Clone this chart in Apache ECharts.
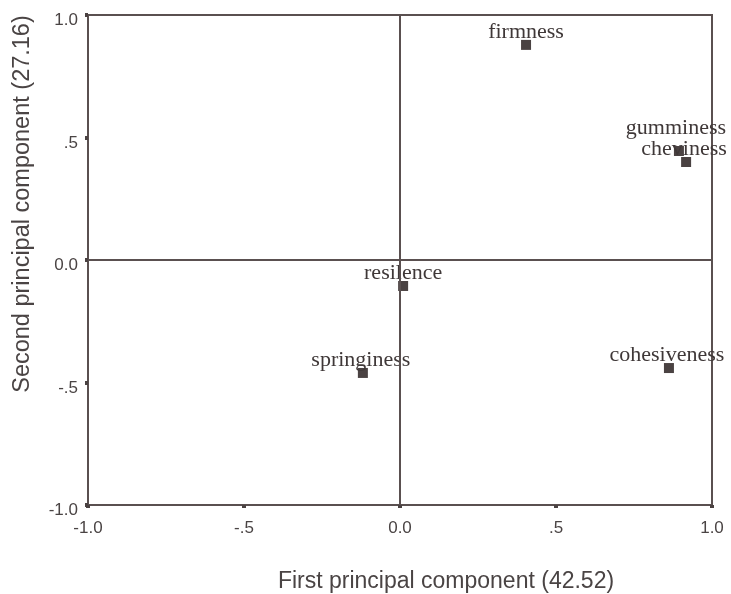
<!DOCTYPE html>
<html><head><meta charset="utf-8">
<script src="https://cdn.jsdelivr.net/npm/echarts@6/dist/echarts.min.js"></script>
<style>html,body{margin:0;padding:0;background:#fff}#c{width:731px;height:594px}</style>
</head><body><div id="c"></div>
<script>
var names = ['firmness','gumminess','cheviness','resilence','springiness','cohesiveness'];
var pc1 = [0.404, 0.894, 0.917, 0.010, -0.119, 0.862];
var pc2 = [0.878, 0.445, 0.400, -0.106, -0.461, -0.441];
var xTickLabels = ['-1.0','-.5','0.0','.5','1.0'];
var yTickLabels = ['-1.0','-.5','0.0','.5','1.0'];
var xTitle = 'First principal component (42.52)';
var yTitle = 'Second principal component (27.16)';

var ink = '#4a4242';
var lineC = '#5a5050';
var textC = '#4a4444';
var labelShift = {gumminess: [-3, -10], cheviness: [-2, 0], cohesiveness: [-2, 0], springiness: [-2, 0]};

var data = names.map(function(n, i){
  var d = {name: n, value: [pc1[i], pc2[i]]};
  if (labelShift[n]) d.label = {offset: labelShift[n]};
  return d;
});

var chart = echarts.init(document.getElementById('c'), null, {renderer: 'canvas'});
chart.setOption({
  animation: false,
  grid: {left: 88, right: 19, top: 15, bottom: 89, show: true, borderColor: lineC, borderWidth: 2, backgroundColor: 'transparent'},
  xAxis: {
    type: 'value', min: -1, max: 1, interval: 0.5,
    axisLine: {show: false, onZero: false},
    axisTick: {show: true, length: 3, lineStyle: {color: ink, width: 4}},
    splitLine: {show: false},
    axisLabel: {margin: 15, color: textC, fontFamily: 'Liberation Sans, Arial', fontSize: 17,
      formatter: function(v, i){ return xTickLabels[i]; }}
  },
  yAxis: {
    type: 'value', min: -1, max: 1, interval: 0.5,
    axisLine: {show: false, onZero: false},
    axisTick: {show: true, length: 3, lineStyle: {color: ink, width: 4}},
    splitLine: {show: false},
    axisLabel: {margin: 10, color: textC, fontFamily: 'Liberation Sans, Arial', fontSize: 17,
      verticalAlign: 'top', lineHeight: 11,
      formatter: function(v, i){ return yTickLabels[i]; }}
  },
  graphic: [
    {type: 'text', x: 446, y: 582, style: {text: xTitle, font: '23px "Liberation Sans", Arial', fill: textC, textAlign: 'center', textVerticalAlign: 'middle'}},
    {type: 'text', x: 23, y: 204, rotation: Math.PI/2, style: {text: yTitle, font: '23.5px "Liberation Sans", Arial', fill: textC, textAlign: 'center', textVerticalAlign: 'middle'}}
  ],
  series: [{
    type: 'scatter',
    symbol: 'rect', symbolSize: 10,
    itemStyle: {color: ink, opacity: 1},
    data: data,
    label: {show: true, position: 'top', distance: -3, formatter: '{b}', color: '#3f3838',
      fontFamily: 'Liberation Serif, Times New Roman', fontSize: 22},
    markLine: {
      silent: true, symbol: 'none',
      lineStyle: {color: lineC, width: 2, type: 'solid', opacity: 1},
      label: {show: false},
      data: [{xAxis: 0}, {yAxis: 0}]
    }
  }]
});
</script></body></html>
